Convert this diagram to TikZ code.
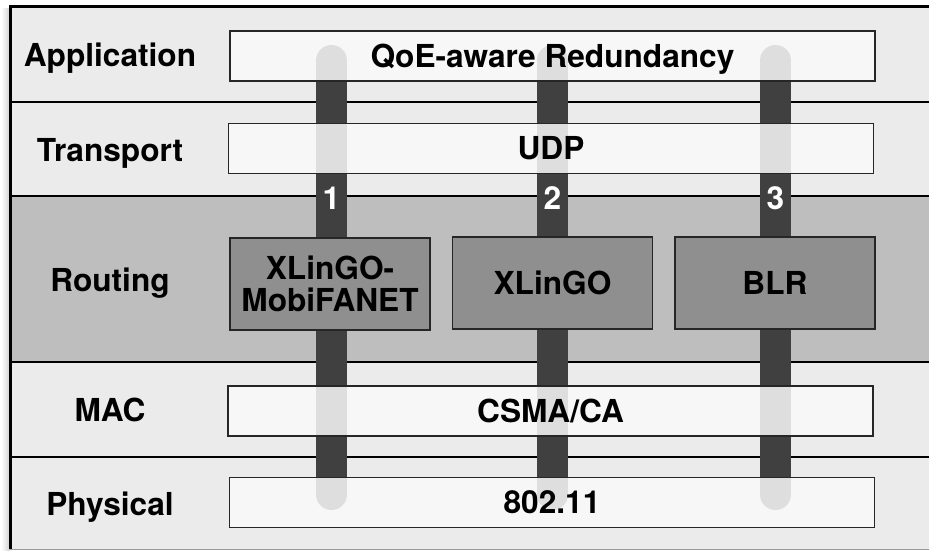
\documentclass[tikz,border=0pt]{standalone}
\usepackage{fontspec}
\setmainfont{TeX Gyre Heros}
\definecolor{rowgray}{HTML}{EBEBEB}
\definecolor{routegray}{HTML}{BEBEBE}
\definecolor{protogray}{HTML}{8F8F8F}
\definecolor{bargray}{HTML}{404040}
\definecolor{boxwhite}{HTML}{F9F9F9}
\begin{document}
\begin{tikzpicture}[x=0.025cm,y=-0.025cm,
        font=\fontsize{22.5}{23}\selectfont\bfseries,
        every node/.style={text height=16.2pt,text depth=0pt},
        sepline/.style={line width=2.1pt,black},
        whitebox/.style={draw=black!85,line width=1pt,fill=boxwhite,fill opacity=0.86,text opacity=1,
            minimum width=16.125cm,minimum height=1.25cm,inner sep=0pt},
        routebox/.style={draw=black!85,line width=1pt,fill=protogray,align=center,
            minimum width=5cm,minimum height=2.3cm,inner sep=0pt},
        pathbar/.style={line width=0.775cm,bargray,line cap=round},
        pathnum/.style={white,inner sep=0pt}]
        \useasboundingbox (0,0) rectangle (929,551);
        \shade[left color=white,right color=black!18] (1,9) rectangle (10,551);
        \fill[rowgray] (10,7) rectangle (935,549);
        \fill[routegray] (10,196) rectangle (935,362);
        \draw[black!40,line width=0.6pt] (10,549.3)--(935,549.3);
        \draw[sepline] (10.5,549)--(10.5,6.5)--(935,6.5);
        \draw[sepline] (10,102)--(935,102);
        \draw[sepline] (10,196)--(935,196);
        \draw[sepline] (10,362)--(935,362);
        \draw[sepline] (10,457)--(935,457);

        % the three paths through the stack
        \coordinate (top1) at (331.5,60.5);
        \coordinate (bot1) at (331.5,494.5);
        \coordinate (top2) at (552.5,60.5);
        \coordinate (bot2) at (552.5,494.5);
        \coordinate (top3) at (775.5,60.5);
        \coordinate (bot3) at (775.5,494.5);
        \draw[pathbar] (top1)--(bot1);
        \draw[pathbar] (top2)--(bot2);
        \draw[pathbar] (top3)--(bot3);
        \node[pathnum] (num1) at (331.5,198) {1};
        \node[pathnum] (num2) at (552.5,198) {2};
        \node[pathnum] (num3) at (775.5,198) {3};

        \node (application) at (110,55) {Application};
        \node (transport) at (110,150) {Transport};
        \node (routing) at (110,280) {Routing};
        \node (mac) at (110,410) {MAC};
        \node (physical) at (110,504) {Physical};

        \node[whitebox] (qoe) at (552.5,56) {QoE-aware Redundancy};
        \node[whitebox] (udp) at (551,148.5) {UDP};
        \node[whitebox] (csma) at (550.5,411) {CSMA/CA};
        \node[whitebox] (wifi) at (552,502.5) {802.11};

        \node[routebox,text height=39.2pt] (mobifanet) at (330,284) {XLinGO-\\MobiFANET};
        \node[routebox] (xlingo) at (552.5,283) {XLinGO};
        \node[routebox] (blr) at (775,283) {BLR};
%        \node[pathnum] (num0) at (110,199) {0};
    \end{tikzpicture}
\end{document}
